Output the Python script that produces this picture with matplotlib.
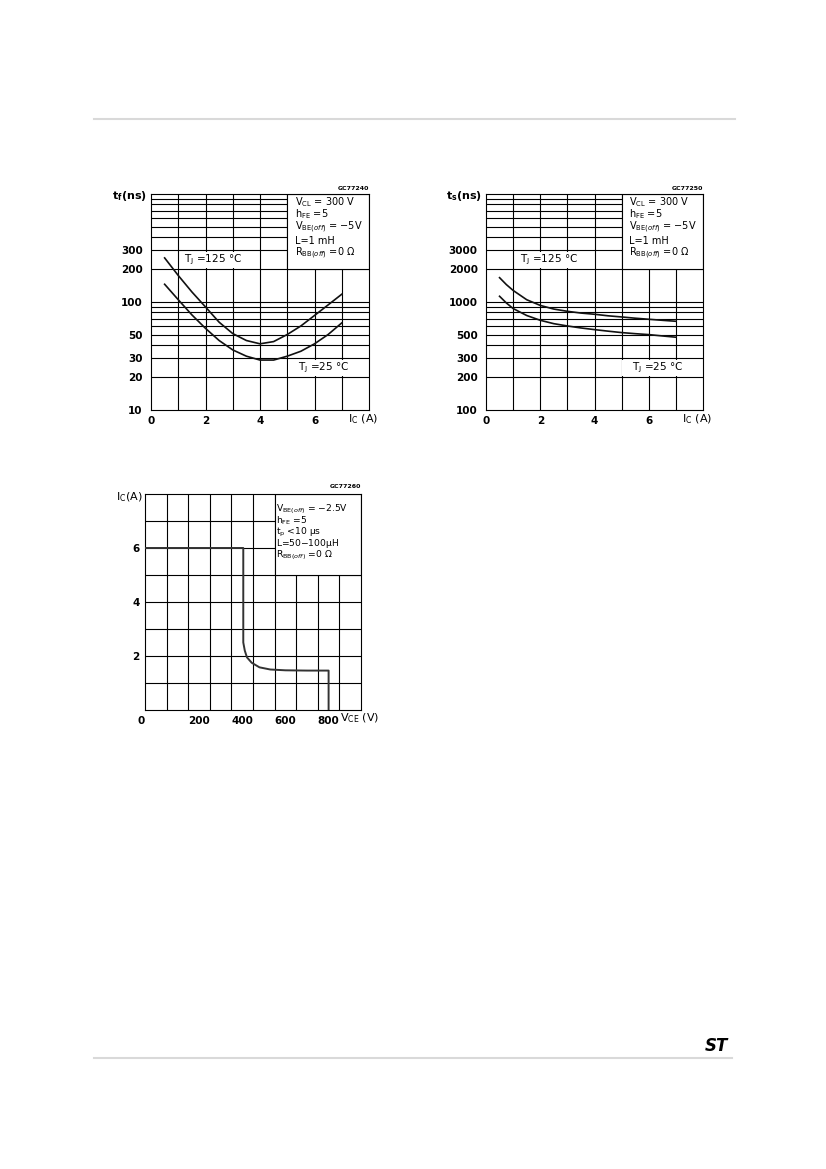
import numpy as np
import matplotlib.pyplot as plt
from matplotlib.patches import Rectangle
from matplotlib.lines import Line2D
from matplotlib.ticker import NullLocator

plt.rcParams['font.family'] = ['DejaVu Sans']
plt.rcParams['mathtext.default'] = 'regular'

# Время спада t_f от тока коллектора
ic_tf = [0.5, 1, 1.5, 2, 2.5, 3, 3.5, 4, 4.5, 5, 5.5, 6, 6.5, 7]
tf_125 = [256, 176, 124, 90, 65, 51, 44, 41, 43, 50, 60, 75, 94, 118]
tf_25 = [146, 105, 76, 57, 44, 36, 31.5, 29, 29, 31.5, 35, 41, 50, 64]

# Время рассасывания t_s от тока коллектора
ic_ts = [0.5, 0.75, 1, 1.5, 2, 2.5, 3, 3.5, 4, 4.5, 5, 5.5, 6, 6.5, 7]
ts_125 = [1680, 1450, 1280, 1050, 930, 860, 820, 790, 770, 745, 727, 708, 692, 677, 663]
ts_25 = [1130, 980, 870, 750, 677, 630, 600, 575, 555, 537, 521, 509, 499, 485, 472]

# Область безопасной работы (RBSOA)
vce_soa = [0, 455, 455, 462, 472, 494, 530, 580, 650, 750, 850, 850]
ic_soa = [6, 6, 2.5, 2.2, 1.95, 1.75, 1.58, 1.5, 1.47, 1.46, 1.46, 0]

tf_ticks = [10, 20, 30, 50, 100, 200, 300]
ts_ticks = [100, 200, 300, 500, 1000, 2000, 3000]
ic_ticks = [0, 2, 4, 6]
vce_ticks = [0, 200, 400, 600, 800]
soa_yticks = [2, 4, 6]

cond_sw = [r'$V_{CL}$ = 300 V', r'$h_{FE}$ =5', r'$V_{BE(\mathit{off})}$ = $-$5V',
           'L=1 mH', r'$R_{BB(\mathit{off})}$ =0 $\Omega$']
cond_sw_y = [0.962, 0.905, 0.845, 0.784, 0.727]
cond_soa = [r'$V_{BE(\mathit{off})}$ = $-$2.5V', r'$h_{FE}$ =5', r't$_p$ <10 $\mu$s',
            r'L=50$-$100$\mu$H', r'$R_{BB(\mathit{off})}$ =0 $\Omega$']
cond_soa_y = [0.93, 0.876, 0.823, 0.771, 0.718]

W, H = 826, 1169
fig = plt.figure(figsize=(W / 100, H / 100), dpi=100)

LW = 0.8
FS = 7.5


def px_rect(x0, y0, x1, y1):
    return [x0 / W, 1 - y1 / H, (x1 - x0) / W, (y1 - y0) / H]


def switching_chart(rect, x, y_hot, y_cold, ylo, yticks, ylabel, code, hot_x, cold_x):
    ax = fig.add_axes(rect)
    ax.set_xlim(0, 8)
    ax.set_yscale('log')
    ax.set_ylim(ylo, ylo * 100)
    for v in range(1, 8):
        ax.axvline(v, color='k', lw=LW, zorder=1)
    for dec in (ylo, ylo * 10):
        for m in range(2, 10):
            ax.axhline(dec * m, color='k', lw=LW, zorder=1)
    ax.axhline(ylo * 10, color='k', lw=LW, zorder=1)
    # белые подложки под подписи
    ax.add_patch(Rectangle((1.12, ylo * 20 * 1.03), 2.85, ylo * (30 / 1.03 - 20 * 1.03),
                           facecolor='white', edgecolor='none', zorder=2))
    ax.add_patch(Rectangle((5.03, ylo * 2 * 1.03), 2.97, ylo * (3 / 1.03 - 2 * 1.03),
                           facecolor='white', edgecolor='none', zorder=2))
    ax.add_patch(Rectangle((5, ylo * 20), 3, ylo * 80, facecolor='white',
                           edgecolor='k', lw=LW, zorder=2))
    ax.plot(x, y_hot, color='#111111', lw=1.2, zorder=3)
    ax.plot(x, y_cold, color='#111111', lw=1.2, zorder=3)
    ax.text(hot_x, ylo * 24.5, r'$T_J$ =125 °C', fontsize=FS, va='center', zorder=4)
    ax.text(cold_x, ylo * 2.45, r'$T_J$ =25 °C', fontsize=FS, va='center', zorder=4)
    for s, yy in zip(cond_sw, cond_sw_y):
        ax.text(0.66, yy, s, transform=ax.transAxes, fontsize=7, va='center', zorder=4)

    ax.set_xticks(ic_ticks)
    ax.set_xticklabels([str(t) for t in ic_ticks], fontsize=FS, fontweight='bold')
    ax.set_yticks(yticks)
    ax.set_yticklabels([str(t) for t in yticks], fontsize=FS, fontweight='bold')
    ax.yaxis.set_minor_locator(NullLocator())
    ax.tick_params(axis='both', length=0)
    ax.tick_params(axis='y', pad=6)
    ax.tick_params(axis='x', pad=4)
    for sp in ax.spines.values():
        sp.set_linewidth(LW)
    ax.text(-0.02, 0.99, ylabel, transform=ax.transAxes, ha='right', va='center',
            fontsize=8, fontweight='bold')
    ax.text(0.905, -0.042, r'$I_C$ (A)', transform=ax.transAxes, ha='left', va='center',
            fontsize=FS + 0.5)
    ax.text(1.0, 1.025, code, transform=ax.transAxes, ha='right', va='center',
            fontsize=4.5, fontweight='bold')
    return ax


switching_chart(px_rect(151, 194, 369, 410), ic_tf, tf_125, tf_25, 10, tf_ticks,
                r'$t_f$(ns)', 'GC77240', 1.22, 5.4)
switching_chart(px_rect(486, 194, 703, 410), ic_ts, ts_125, ts_25, 100, ts_ticks,
                r'$t_s$(ns)', 'GC77250', 1.25, 5.38)

# График RBSOA
ax = fig.add_axes(px_rect(145, 494, 361, 710))
ax.set_xlim(0, 1000)
ax.set_ylim(0, 8)
for v in range(100, 1000, 100):
    ax.axvline(v, color='k', lw=LW, zorder=1)
for v in range(1, 8):
    ax.axhline(v, color='k', lw=LW, zorder=1)
ax.add_patch(Rectangle((600, 5), 400, 3, facecolor='white', edgecolor='k', lw=LW, zorder=2))
ax.plot(vce_soa, ic_soa, color='#333333', lw=1.4, zorder=3)
for s, yy in zip(cond_soa, cond_soa_y):
    ax.text(0.608, yy, s, transform=ax.transAxes, fontsize=6.6, va='center', zorder=4)
ax.set_xticks(vce_ticks)
ax.set_xticklabels([str(t) for t in vce_ticks], fontsize=FS, fontweight='bold')
for i, lbl in enumerate(ax.get_xticklabels()):
    lbl.set_ha('right' if i == 0 else 'left')
ax.set_yticks(soa_yticks)
ax.set_yticklabels([str(t) for t in soa_yticks], fontsize=FS, fontweight='bold')
ax.tick_params(axis='both', length=0)
ax.tick_params(axis='y', pad=4)
ax.tick_params(axis='x', pad=4)
for sp in ax.spines.values():
    sp.set_linewidth(LW)
ax.text(-0.012, 0.985, r'$I_C$(A)', transform=ax.transAxes, ha='right', va='center',
        fontsize=FS + 0.5)
ax.text(0.905, -0.04, r'$V_{CE}$ (V)', transform=ax.transAxes, ha='left', va='center',
        fontsize=FS + 0.5)
ax.text(1.0, 1.034, 'GC77260', transform=ax.transAxes, ha='right', va='center',
        fontsize=4.5, fontweight='bold')

# Оформление страницы
fig.add_artist(Line2D([94 / W, 735 / W], [1 - 118.75 / H] * 2, color='#d9d9d9', lw=1.5))
fig.add_artist(Line2D([94 / W, 732 / W], [1 - 1058.3 / H] * 2, color='#d9d9d9', lw=1.5))
fig.text(716 / W, 1 - 1046 / H, 'ST', fontsize=12, fontweight='bold', fontstyle='italic',
         ha='center', va='center')

fig.savefig('out.png', dpi=100)
